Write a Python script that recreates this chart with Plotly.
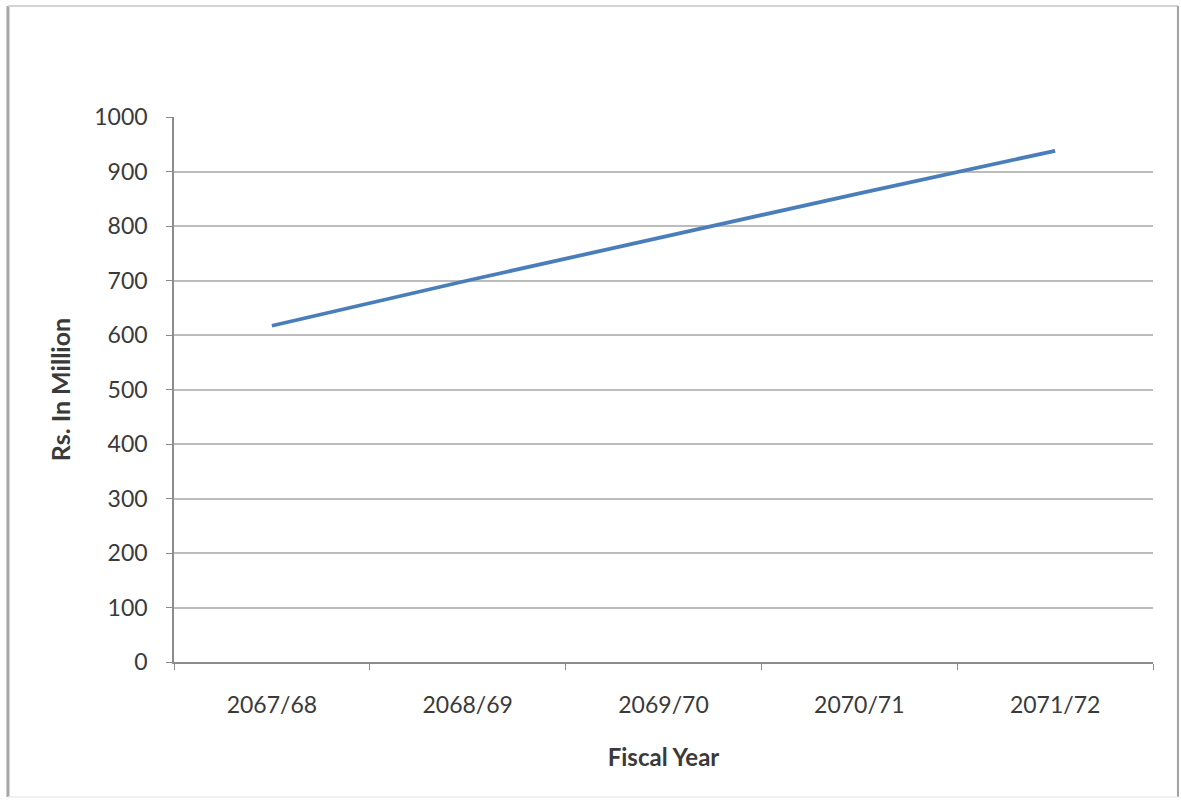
import plotly.graph_objects as go

# Revenue by fiscal year (Rs. in million)
fiscal_years = ["2067/68", "2068/69", "2069/70", "2070/71", "2071/72"]
amounts = [617, 700, 780, 860, 938]
y_ticks = [0, 100, 200, 300, 400, 500, 600, 700, 800, 900, 1000]

FONT = "Lato"
TEXT = "#3a3a3a"
GRID = "#bcbcbc"
AXIS = "#8c8c8c"

fig = go.Figure()
fig.add_trace(go.Scatter(
    x=fiscal_years,
    y=amounts,
    mode="lines",
    line=dict(color="#4a7ebb", width=3.8),
    showlegend=False,
    hoverinfo="x+y",
))

# outer chart frame, in paper coordinates
FL, FR, FT, FB = -0.1696, 1.0255, 1.2037, -0.2477

fig.update_layout(
    width=1181,
    height=801,
    margin=dict(l=174, r=28, t=117, b=139),
    paper_bgcolor="white",
    plot_bgcolor="white",
    font=dict(family=FONT, size=23, color=TEXT),
    xaxis=dict(
        type="category",
        range=[-0.5, 4.5],
        showgrid=False,
        showline=True,
        linecolor=AXIS,
        linewidth=1.5,
        ticks="outside",
        tickson="boundaries",
        ticklen=6,
        tickcolor=AXIS,
        tickfont=dict(family=FONT, size=23, color=TEXT),
        ticklabelstandoff=22,
        title=dict(text="<b>Fiscal Year</b>", font=dict(family=FONT, size=24, color=TEXT), standoff=32),
        zeroline=False,
        fixedrange=True,
    ),
    yaxis=dict(
        range=[0, 1000],
        tickvals=y_ticks,
        showgrid=True,
        gridcolor=GRID,
        gridwidth=1.8,
        showline=True,
        linecolor=AXIS,
        linewidth=1.5,
        ticks="outside",
        ticklen=6,
        tickcolor=AXIS,
        tickfont=dict(family=FONT, size=23, color=TEXT),
        ticklabelstandoff=14,
        title=dict(text="<b>Rs. In Million</b>", font=dict(family=FONT, size=25, color=TEXT), standoff=17),
        zeroline=False,
        fixedrange=True,
    ),
    shapes=[
        dict(type="line", xref="paper", yref="paper", x0=FL, x1=FL, y0=FT, y1=FB,
             line=dict(color="#a6a6a6", width=3)),
        dict(type="line", xref="paper", yref="paper", x0=FL, x1=FR, y0=FT, y1=FT,
             line=dict(color="#d4d4d4", width=2)),
        dict(type="line", xref="paper", yref="paper", x0=FR, x1=FR, y0=FT, y1=FB,
             line=dict(color="#a0a0a0", width=2)),
        dict(type="line", xref="paper", yref="paper", x0=FL, x1=FR, y0=FB, y1=FB,
             line=dict(color="#ececec", width=1.5)),
    ],
)

fig.write_html("out.html")
